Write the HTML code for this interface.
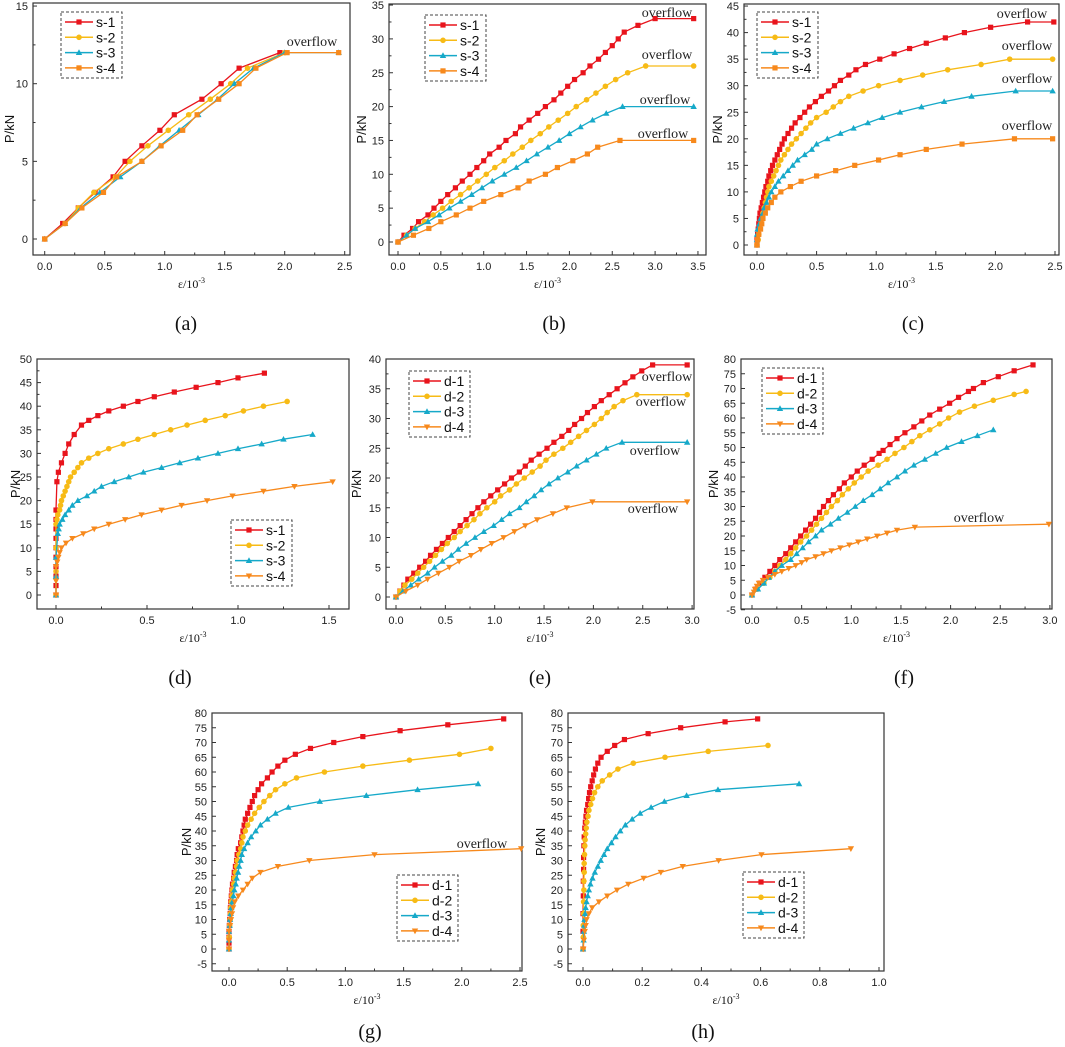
<!DOCTYPE html>
<html><head><meta charset="utf-8"><style>
html,body{margin:0;padding:0;background:#fff;}
svg{display:block;}
text{font-family:"Liberation Sans",sans-serif;}
.serif{font-family:"Liberation Serif",serif;}
</style></head>
<body>
<svg id="fig" width="1065" height="1047" viewBox="0 0 1065 1047" xmlns="http://www.w3.org/2000/svg"></svg>
<script>
// ---------- data ----------
// (a)
const aS1x=[0,0.15,0.28,0.42,0.57,0.67,0.81,0.96,1.08,1.31,1.47,1.62,1.96];
const aS1y=[0,1,2,3,4,5,6,7,8,9,10,11,12];
const aS2x=[0,0.17,0.28,0.41,0.59,0.71,0.86,1.03,1.2,1.38,1.55,1.69,2.0];
const aS2y=[0,1,2,3,4,5,6,7,8,9,10,11,12];
const aS3x=[0,0.17,0.3,0.46,0.63,0.81,0.96,1.12,1.28,1.44,1.58,1.74,2.0,2.45];
const aS3y=[0,1,2,3,4,5,6,7,8,9,10,11,12,12];
const aS4x=[0,0.17,0.31,0.49,0.6,0.81,0.97,1.15,1.27,1.45,1.62,1.76,2.02,2.45];
const aS4y=[0,1,2,3,4,5,6,7,8,9,10,11,12,12];
// (b)
const bS1x=[0,0.07,0.17,0.24,0.35,0.42,0.5,0.58,0.67,0.75,0.84,0.92,1.0,1.07,1.18,1.26,1.37,1.43,1.53,1.63,1.72,1.82,1.9,1.98,2.06,2.16,2.24,2.34,2.42,2.5,2.57,2.64,2.8,3.0,3.45];
const bS1y=[0,1,2,3,4,5,6,7,8,9,10,11,12,13,14,15,16,17,18,19,20,21,22,23,24,25,26,27,28,29,30,31,32,33,33];
const bS2x=[0,0.1,0.2,0.31,0.41,0.52,0.62,0.73,0.83,0.93,1.03,1.13,1.24,1.34,1.45,1.55,1.66,1.76,1.87,1.98,2.08,2.2,2.31,2.42,2.54,2.68,2.89,3.45];
const bS2y=[0,1,2,3,4,5,6,7,8,9,10,11,12,13,14,15,16,17,18,19,20,21,22,23,24,25,26,26];
const bS3x=[0,0.1,0.2,0.35,0.48,0.6,0.73,0.86,0.98,1.1,1.24,1.38,1.5,1.62,1.75,1.88,2.0,2.13,2.27,2.43,2.62,3.45];
const bS3y=[0,1,2,3,4,5,6,7,8,9,10,11,12,13,14,15,16,17,18,19,20,20];
const bS4x=[0,0.18,0.36,0.5,0.68,0.84,1.0,1.2,1.4,1.53,1.72,1.86,2.04,2.21,2.33,2.59,3.45];
const bS4y=[0,1,2,3,4,5,6,7,8,9,10,11,12,13,14,15,15];
// (c)
const cS1x=[0,0,0.005,0.01,0.015,0.02,0.025,0.035,0.045,0.055,0.065,0.075,0.09,0.1,0.115,0.13,0.15,0.17,0.19,0.21,0.23,0.26,0.29,0.32,0.36,0.4,0.44,0.49,0.54,0.6,0.65,0.7,0.77,0.83,0.91,1.03,1.15,1.28,1.42,1.58,1.74,1.96,2.27,2.49];
const cS1y=[0,1,2,3,4,5,6,7,8,9,10,11,12,13,14,15,16,17,18,19,20,21,22,23,24,25,26,27,28,29,30,31,32,33,34,35,36,37,38,39,40,41,42,42];
const cS2x=[0,0.01,0.015,0.02,0.03,0.04,0.05,0.06,0.07,0.08,0.09,0.1,0.12,0.14,0.16,0.18,0.2,0.23,0.26,0.29,0.33,0.37,0.41,0.45,0.5,0.58,0.64,0.7,0.77,0.89,1.02,1.2,1.39,1.6,1.88,2.12,2.48];
const cS2y=[0,1,2,3,4,5,6,7,8,9,10,11,12,13,14,15,16,17,18,19,20,21,22,23,24,25,26,27,28,29,30,31,32,33,34,35,35];
const cS3x=[0,0,0,0.005,0.02,0.03,0.05,0.06,0.08,0.1,0.12,0.15,0.18,0.22,0.26,0.3,0.34,0.4,0.46,0.5,0.59,0.7,0.81,0.93,1.05,1.2,1.38,1.57,1.8,2.17,2.48];
const cS3y=[0,1,2,3,4,5,6,7,8,9,10,11,12,13,14,15,16,17,18,19,20,21,22,23,24,25,26,27,28,29,29];
const cS4x=[0,0.005,0.015,0.03,0.04,0.05,0.07,0.09,0.12,0.15,0.2,0.28,0.37,0.5,0.66,0.82,1.02,1.2,1.42,1.72,2.16,2.48];
const cS4y=[0,1,2,3,4,5,6,7,8,9,10,11,12,13,14,15,16,17,18,19,20,20];
// (d)
const dS1x=[0,0,0,0,0,0,0,0,0,0,0.005,0.013,0.03,0.05,0.07,0.1,0.14,0.18,0.23,0.29,0.37,0.45,0.54,0.65,0.77,0.89,1.0,1.145];
const dS1y=[0,2,4,6,8,10,12,14,16,18,24,26,28,30,32,34,36,37,38,39,40,41,42,43,44,45,46,47];
const dS2x=[0,0,0,0,0.005,0.01,0.02,0.025,0.03,0.04,0.05,0.06,0.07,0.08,0.1,0.12,0.14,0.18,0.23,0.29,0.37,0.45,0.54,0.63,0.72,0.82,0.93,1.03,1.14,1.27];
const dS2y=[0,5,10,15,16,17,18,19,20,21,22,23,24,25,26,27,28,29,30,31,32,33,34,35,36,37,38,39,40,41];
const dS3x=[0,0,0,0.01,0.015,0.02,0.035,0.05,0.07,0.09,0.12,0.17,0.21,0.25,0.32,0.4,0.48,0.58,0.68,0.78,0.89,1.0,1.13,1.25,1.41];
const dS3y=[0,4,8,13,14,15,16,17,18,19,20,21,22,23,24,25,26,27,28,29,30,31,32,33,34];
const dS4x=[0,0,0,0.007,0.013,0.02,0.03,0.055,0.09,0.15,0.21,0.29,0.38,0.47,0.58,0.69,0.83,0.97,1.14,1.31,1.52];
const dS4y=[0,3,6,7,8,9,10,11,12,13,14,15,16,17,18,19,20,21,22,23,24];
// (e)
const eD1x=[0,0.04,0.08,0.12,0.18,0.24,0.3,0.35,0.41,0.47,0.53,0.59,0.65,0.71,0.77,0.83,0.89,0.96,1.03,1.1,1.17,1.25,1.31,1.37,1.45,1.53,1.6,1.68,1.75,1.81,1.88,1.94,2.01,2.08,2.16,2.24,2.32,2.4,2.49,2.6,2.95];
const eD1y=[0,1,2,3,4,5,6,7,8,9,10,11,12,13,14,15,16,17,18,19,20,21,22,23,24,25,26,27,28,29,30,31,32,33,34,35,36,37,38,39,39];
const eD2x=[0,0.04,0.09,0.16,0.22,0.28,0.34,0.4,0.46,0.52,0.59,0.65,0.72,0.79,0.85,0.92,1.0,1.06,1.15,1.22,1.3,1.38,1.46,1.52,1.6,1.69,1.77,1.85,1.93,2.01,2.08,2.14,2.21,2.3,2.44,2.95];
const eD2y=[0,1,2,3,4,5,6,7,8,9,10,11,12,13,14,15,16,17,18,19,20,21,22,23,24,25,26,27,28,29,30,31,32,33,34,34];
const eD3x=[0,0.07,0.15,0.23,0.32,0.39,0.47,0.56,0.63,0.71,0.8,0.89,0.99,1.07,1.15,1.25,1.32,1.4,1.47,1.55,1.64,1.74,1.83,1.93,2.03,2.13,2.29,2.95];
const eD3y=[0,1,2,3,4,5,6,7,8,9,10,11,12,13,14,15,16,17,18,19,20,21,22,23,24,25,26,26];
const eD4x=[0,0.1,0.22,0.32,0.43,0.54,0.64,0.76,0.86,0.97,1.09,1.2,1.31,1.43,1.59,1.73,1.99,2.95];
const eD4y=[0,1,2,3,4,5,6,7,8,9,10,11,12,13,14,15,16,16];
// (f)
const fD1x=[0,0.04,0.08,0.13,0.18,0.23,0.28,0.34,0.39,0.44,0.49,0.54,0.59,0.64,0.68,0.72,0.77,0.82,0.88,0.93,1.0,1.06,1.13,1.21,1.28,1.32,1.39,1.46,1.54,1.63,1.71,1.79,1.89,1.99,2.08,2.18,2.23,2.33,2.48,2.64,2.83];
const fD1y=[0,2,4,6,8,10,12,14,16,18,20,22,24,26,28,30,32,34,36,38,40,42,44,46,48,49,51,53,55,57,59,61,63,65,67,69,70,72,74,76,78];
const fD2x=[0,0.05,0.12,0.18,0.23,0.28,0.34,0.39,0.44,0.49,0.55,0.6,0.65,0.7,0.75,0.8,0.86,0.91,0.97,1.03,1.1,1.17,1.27,1.36,1.44,1.53,1.61,1.69,1.79,1.89,1.98,2.09,2.24,2.43,2.64,2.76];
const fD2y=[0,2,4,6,8,10,12,14,16,18,20,22,24,26,28,30,32,34,36,38,40,42,44,46,48,50,52,54,56,58,60,62,64,66,68,69];
const fD3x=[0,0.06,0.12,0.17,0.23,0.3,0.39,0.45,0.51,0.57,0.64,0.7,0.79,0.87,0.96,1.04,1.12,1.21,1.29,1.37,1.46,1.54,1.63,1.74,1.85,1.96,2.11,2.27,2.43];
const fD3y=[0,2,4,6,8,10,12,14,16,18,20,22,24,26,28,30,32,34,36,38,40,42,44,46,48,50,52,54,56];
const fD4x=[0,0.02,0.03,0.05,0.07,0.11,0.16,0.23,0.3,0.37,0.44,0.5,0.55,0.64,0.72,0.8,0.89,0.98,1.07,1.16,1.26,1.36,1.46,1.64,2.99];
const fD4y=[0,1,2,3,4,5,6,7,8,9,10,11,12,13,14,15,16,17,18,19,20,21,22,23,24];
// (g)
const gD1x=[0,0,0,0,0.003,0.006,0.01,0.012,0.015,0.02,0.025,0.03,0.04,0.045,0.055,0.065,0.07,0.08,0.1,0.11,0.12,0.13,0.14,0.16,0.18,0.2,0.22,0.25,0.28,0.33,0.37,0.42,0.48,0.57,0.7,0.9,1.15,1.47,1.88,2.36];
const gD1y=[0,2,4,6,8,10,12,14,16,18,20,22,24,26,28,30,32,34,36,38,40,42,44,46,48,50,52,54,56,58,60,62,64,66,68,70,72,74,76,78];
const gD2x=[0,0.003,0.006,0.01,0.012,0.015,0.02,0.025,0.03,0.04,0.045,0.055,0.065,0.07,0.085,0.1,0.11,0.12,0.14,0.16,0.19,0.22,0.26,0.3,0.35,0.4,0.48,0.58,0.82,1.15,1.55,1.98,2.25];
const gD2y=[0,4,8,10,12,14,16,18,20,22,24,26,28,30,32,34,36,38,40,42,44,46,48,50,52,54,56,58,60,62,64,66,68];
const gD3x=[0,0,0,0.006,0.009,0.015,0.02,0.029,0.038,0.046,0.058,0.066,0.078,0.087,0.1,0.11,0.13,0.16,0.19,0.23,0.27,0.33,0.4,0.51,0.78,1.18,1.62,2.14];
const gD3y=[0,3,6,8,10,12,14,16,18,20,22,24,26,28,30,32,34,36,38,40,42,44,46,48,50,52,54,56];
const gD4x=[0,0,0,0.009,0.017,0.026,0.035,0.05,0.08,0.12,0.16,0.2,0.27,0.42,0.69,1.25,2.51];
const gD4y=[0,3,6,8,10,12,14,16,18,20,22,24,26,28,30,32,34];
// (h)
const hD1x=[0,0,0,0.001,0.001,0.002,0.002,0.003,0.004,0.006,0.008,0.01,0.012,0.016,0.019,0.022,0.026,0.031,0.036,0.042,0.05,0.061,0.082,0.107,0.14,0.22,0.33,0.48,0.59];
const hD1y=[0,6,12,18,23,27,31,35,38,41,43,45,47,49,51,53,55,57,59,61,63,65,67,69,71,73,75,77,78];
const hD2x=[0,0.001,0.001,0.002,0.002,0.003,0.003,0.004,0.004,0.005,0.006,0.007,0.009,0.011,0.013,0.017,0.02,0.026,0.032,0.039,0.05,0.065,0.09,0.118,0.17,0.277,0.423,0.625];
const hD2y=[0,4,8,12,16,20,23,26,29,32,35,37,39,41,43,45,47,49,51,53,55,57,59,61,63,65,67,69];
const hD3x=[0,0.002,0.003,0.004,0.005,0.007,0.009,0.012,0.016,0.02,0.025,0.032,0.04,0.05,0.06,0.071,0.082,0.096,0.11,0.126,0.143,0.166,0.193,0.23,0.275,0.35,0.456,0.73];
const hD3y=[0,3,6,8,10,12,14,16,18,20,22,24,26,28,30,32,34,36,38,40,42,44,46,48,50,52,54,56];
const hD4x=[0.001,0.003,0.006,0.009,0.012,0.02,0.031,0.054,0.082,0.115,0.153,0.205,0.263,0.337,0.458,0.603,0.905];
const hD4y=[0,3,6,8,10,12,14,16,18,20,22,24,26,28,30,32,34];

// tick labels
const aXT=["0.0","0.5","1.0","1.5","2.0","2.5"], aYT=["0","5","10","15"];
const bXT=["0.0","0.5","1.0","1.5","2.0","2.5","3.0","3.5"], bYT=["0","5","10","15","20","25","30","35"];
const cXT=["0.0","0.5","1.0","1.5","2.0","2.5"], cYT=["0","5","10","15","20","25","30","35","40","45"];
const dXT=["0.0","0.5","1.0","1.5"], dYT=["0","5","10","15","20","25","30","35","40","45","50"];
const eXT=["0.0","0.5","1.0","1.5","2.0","2.5","3.0"], eYT=["0","5","10","15","20","25","30","35","40"];
const fXT=["0.0","0.5","1.0","1.5","2.0","2.5","3.0"], fYT=["-5","0","5","10","15","20","25","30","35","40","45","50","55","60","65","70","75","80"];
const gXT=["0.0","0.5","1.0","1.5","2.0","2.5"];
const hXT=["0.0","0.2","0.4","0.6","0.8","1.0"];

// ---------- drawing ----------
const NS="http://www.w3.org/2000/svg";
const svg=document.getElementById('fig');
const RED="#e8141c",YEL="#f7bb16",CYA="#16a9c9",ORA="#f7891c";
function mk(tag,attrs,parent){const e=document.createElementNS(NS,tag);for(const k in attrs)e.setAttribute(k,attrs[k]);(parent||svg).appendChild(e);return e;}
function marker(g,type,x,y,c){
  let e;
  if(type==='sq'){e=mk('rect',{x:x-2.6,y:y-2.6,width:5.2,height:5.2,fill:c},g);}
  else if(type==='ci'){e=mk('circle',{cx:x,cy:y,r:2.8,fill:c},g);}
  else if(type==='tu'){e=mk('polygon',{points:`${x},${y-3.3} ${x-3.2},${y+2.4} ${x+3.2},${y+2.4}`,fill:c},g);}
  else {e=mk('polygon',{points:`${x},${y+3.3} ${x-3.2},${y-2.4} ${x+3.2},${y-2.4}`,fill:c},g);}
  
  
}
function panel(p){
  const g=mk('g',{});
  
  
  const X=v=>p.x0+v*p.xu, Y=v=>p.y0-v*p.yu;
  const fr=mk('rect',{x:p.L,y:p.T,width:p.R-p.L,height:p.B-p.T,fill:'none',stroke:'#333','stroke-width':1.2},g);
  
  
  p.xt.forEach((t,i)=>{
    const v=parseFloat(t),x=X(v);
    mk('line',{x1:x,y1:p.B,x2:x,y2:p.B-4,stroke:'#333','stroke-width':1},g);
    if(i<p.xt.length-1){const xm=X(v+p.xs/2);mk('line',{x1:xm,y1:p.B,x2:xm,y2:p.B-2.5,stroke:'#333','stroke-width':1},g);}
    const tx=mk('text',{x:x,y:p.B+15,'font-size':11,'text-anchor':'middle',fill:'#222'},g);tx.textContent=t;
    
    
  });
  p.yt.forEach((t,i)=>{
    const v=parseFloat(t),y=Y(v);
    mk('line',{x1:p.L,y1:y,x2:p.L+4,y2:y,stroke:'#333','stroke-width':1},g);
    if(p.ym&&i<p.yt.length-1){const ym=Y(v+p.ys/2);mk('line',{x1:p.L,y1:ym,x2:p.L+2.5,y2:ym,stroke:'#333','stroke-width':1},g);}
    const tx=mk('text',{x:p.L-5,y:y+4,'font-size':11,'text-anchor':'end',fill:'#222'},g);tx.textContent=t;
    
    
  });
  const yt=mk('text',{x:0,y:0,'font-size':13,'text-anchor':'middle',fill:'#111',transform:`translate(${p.ytx},${(p.T+p.B)/2}) rotate(-90)`},g);
  yt.textContent='P/kN';
  
  
  const xt=mk('text',{x:(p.L+p.R)/2,y:p.B+33,'font-size':12,'text-anchor':'middle',fill:'#111','class':'serif'},g);
  xt.innerHTML='ε/10<tspan dy="-5" font-size="8">-3</tspan>';
  
  
  p.series.forEach(s=>{
    const sg=mk('g',{},g);
    
    
    const pts=s.x.map((v,i)=>X(v).toFixed(1)+','+Y(s.y[i]).toFixed(1)).join(' ');
    const pl=mk('polyline',{points:pts,fill:'none',stroke:s.c,'stroke-width':1.3},sg);
    
    
    s.x.forEach((v,i)=>marker(sg,s.m,X(v),Y(s.y[i]),s.c));
  });
  (p.ov||[]).forEach(o=>{
    const t=mk('text',{x:o[0],y:o[1],'font-size':14,'text-anchor':'middle',fill:'#222','class':'serif'},g);
    t.textContent='overflow';
    
    
  });
  const lg=mk('g',{},g);
  
  
  const [lx,ly]=p.leg;
  mk('rect',{x:lx,y:ly,width:61,height:66,fill:'#fff',stroke:'#444','stroke-width':1,'stroke-dasharray':'3,2'},lg);
  p.series.forEach((s,i)=>{
    const yy=ly+10+i*15.3;
    const e=mk('g',{},lg);
    
    
    mk('line',{x1:lx+4,y1:yy,x2:lx+32,y2:yy,stroke:s.c,'stroke-width':1.5},e);
    marker(e,s.m,lx+18,yy,s.c);
    const t=mk('text',{x:lx+35,y:yy+5,'font-size':14,fill:'#111'},e);t.textContent=s.name;
  });
  const pl=mk('text',{x:p.lab[0],y:p.lab[1],'font-size':20,'text-anchor':'middle',fill:'#111','class':'serif'},svg);
  pl.textContent='('+p.id+')';
  
  
}
const S=(a,b,c,d,pfx,m4)=>[
  {name:pfx+'-1',x:a[0],y:a[1],c:RED,m:'sq'},
  {name:pfx+'-2',x:b[0],y:b[1],c:YEL,m:'ci'},
  {name:pfx+'-3',x:c[0],y:c[1],c:CYA,m:'tu'},
  {name:pfx+'-4',x:d[0],y:d[1],c:ORA,m:m4}];
const yt80=fYT;
panel({id:'a',L:33,T:3,R:350,B:255,x0:44.7,xu:120,y0:239,yu:15.53,xt:aXT,xs:0.5,yt:aYT,ys:5,ym:true,ytx:14,
  series:S([aS1x,aS1y],[aS2x,aS2y],[aS3x,aS3y],[aS4x,aS4y],'s','sq'),ov:[[312,46]],leg:[61,12],lab:[186,330]});
panel({id:'b',L:389,T:4,R:706,B:255,x0:398,xu:85.7,y0:242,yu:6.77,xt:bXT,xs:0.5,yt:bYT,ys:5,ym:true,ytx:366,
  series:S([bS1x,bS1y],[bS2x,bS2y],[bS3x,bS3y],[bS4x,bS4y],'s','sq'),ov:[[667,17],[667,59],[665,104],[663,138]],leg:[425,15],lab:[554,330]});
panel({id:'c',L:744,T:4,R:1059,B:255,x0:757,xu:119.2,y0:245,yu:5.31,xt:cXT,xs:0.5,yt:cYT,ys:5,ym:true,ytx:722,
  series:S([cS1x,cS1y],[cS2x,cS2y],[cS3x,cS3y],[cS4x,cS4y],'s','sq'),ov:[[1022,18],[1027,50],[1027,83],[1027,130]],leg:[757,12],lab:[913,330]});
panel({id:'d',L:37,T:359,R:349,B:609,x0:56,xu:182,y0:595,yu:4.72,xt:dXT,xs:0.5,yt:dYT,ys:5,ym:true,ytx:20,
  series:S([dS1x,dS1y],[dS2x,dS2y],[dS3x,dS3y],[dS4x,dS4y],'s','td'),ov:[],leg:[231,520],lab:[180,684]});
panel({id:'e',L:386,T:359,R:694,B:609,x0:396,xu:98.7,y0:597,yu:5.95,xt:eXT,xs:0.5,yt:eYT,ys:5,ym:true,ytx:361,
  series:S([eD1x,eD1y],[eD2x,eD2y],[eD3x,eD3y],[eD4x,eD4y],'d','td'),ov:[[667,381],[661,406],[655,455],[653,513]],leg:[409,371],lab:[540,684]});
panel({id:'f',L:741,T:359,R:1052,B:609,x0:752,xu:99.3,y0:595,yu:2.95,xt:fXT,xs:0.5,yt:fYT,ys:5,ym:false,ytx:718,
  series:S([fD1x,fD1y],[fD2x,fD2y],[fD3x,fD3y],[fD4x,fD4y],'d','td'),ov:[[979,522]],leg:[762,368],lab:[904,684]});
panel({id:'g',L:212,T:713,R:522,B:971,x0:229,xu:116.4,y0:949,yu:2.95,xt:gXT,xs:0.5,yt:yt80,ys:5,ym:false,ytx:191,
  series:S([gD1x,gD1y],[gD2x,gD2y],[gD3x,gD3y],[gD4x,gD4y],'d','td'),ov:[[482,848]],leg:[397,875],lab:[370,1038]});
panel({id:'h',L:568,T:713,R:884,B:971,x0:583,xu:296,y0:949,yu:2.95,xt:hXT,xs:0.2,yt:yt80,ys:5,ym:false,ytx:545,
  series:S([hD1x,hD1y],[hD2x,hD2y],[hD3x,hD3y],[hD4x,hD4y],'d','td'),ov:[],leg:[743,872],lab:[703,1038]});
</script>
</body></html>
